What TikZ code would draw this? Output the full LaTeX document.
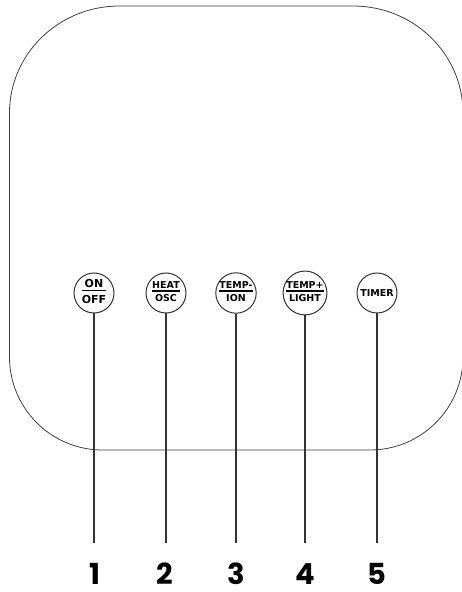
\documentclass[tikz,border=0pt]{standalone}
\usepackage{fontspec}
\newfontfamily\btnfont{DejaVu Sans}
\newfontfamily\numfont{Poppins}
\setlength{\arrayrulewidth}{1.1pt}
\newcommand{\twoline}[2]{\begin{tabular}{@{}c@{}}#1\\[-1pt]\hline\rule{0pt}{1.05em}#2\end{tabular}}
\tikzset{
   button/.style={draw=black!80, circle, line width=1pt, minimum size=40pt, inner sep=0pt, align=center,
      font=\btnfont\bfseries\fontsize{9.5}{10}\selectfont},
   stem/.style={draw=black!80, line width=1.1pt},
   number/.style={inner sep=0pt, anchor=base, font=\numfont\bfseries\fontsize{29}{29}\selectfont}
}
\begin{document}
\begin{tikzpicture}[x=1pt, y=1pt]
      \useasboundingbox (0, 0) rectangle (461, 592);

      % housing outline
      \draw[black!75, line width=0.8pt] (9.5, 479) -- (9.5, 235)
         arc[start angle=180, end angle=270, radius=93pt] -- (370, 142)
         arc[start angle=270, end angle=360, radius=93pt] -- (463, 479)
         arc[start angle=0, end angle=90, x radius=110pt, y radius=107pt] -- (119.5, 586)
         arc[start angle=90, end angle=180, x radius=110pt, y radius=107pt] -- cycle;

      \begin{scope}[name prefix = btn-]
         \node[button, font=\btnfont\bfseries\fontsize{11}{12}\selectfont] (1) at (94, 299) {\twoline{ON}{OFF}};
         \node[button] (2) at (166, 299) {\twoline{HEAT}{OSC}};
         \node[button] (3) at (236, 299) {\twoline{TEMP-}{ION}};
         \node[button] (4) at (305, 299) {\twoline{TEMP+}{LIGHT}};
         \node[button] (5) at (377, 299) {TIMER};
      \end{scope}

      \begin{scope}[name prefix = end-]
         \coordinate (1) at (94, 49);
         \coordinate (2) at (166, 49);
         \coordinate (3) at (236, 49);
         \coordinate (4) at (305, 49);
         \coordinate (5) at (377, 49);
      \end{scope}

      \begin{scope}[name prefix = num-]
         \node[number] (1) at (95, 7) {1};
         \node[number] (2) at (165, 7) {2};
         \node[number] (3) at (236, 7) {3};
         \node[number] (4) at (305, 7) {4};
         \node[number] (5) at (377, 7) {5};
      \end{scope}

      \begin{scope}
         \draw[stem] (btn-1) -- (end-1);
         \draw[stem] (btn-2) -- (end-2);
         \draw[stem] (btn-3) -- (end-3);
         \draw[stem] (btn-4) -- (end-4);
         \draw[stem] (btn-5) -- (end-5);
      \end{scope}
   \end{tikzpicture}
\end{document}
